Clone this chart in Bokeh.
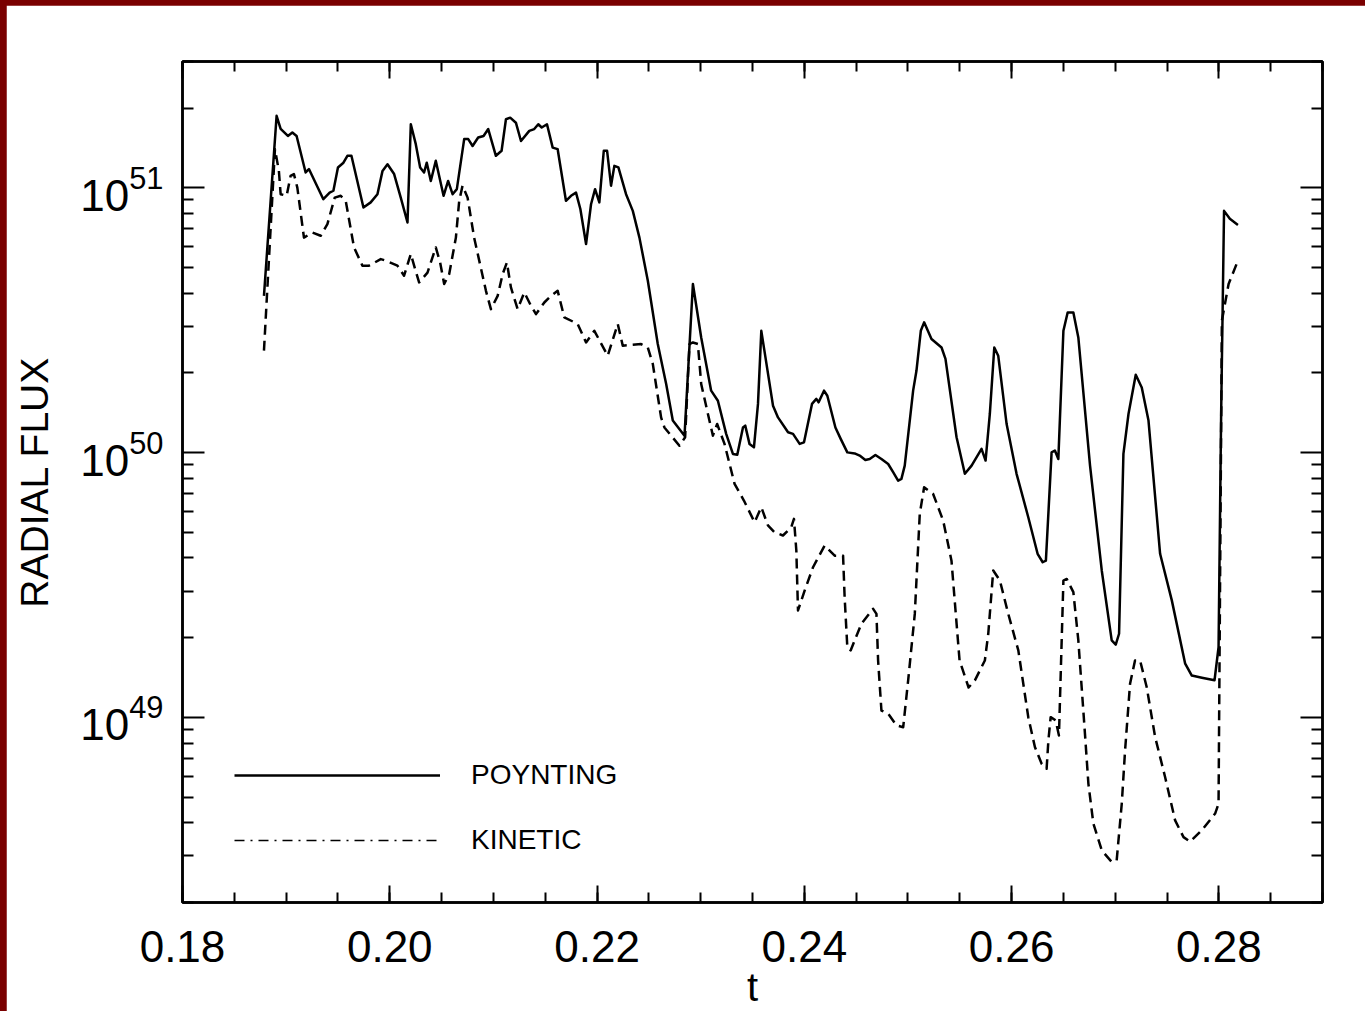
import numpy as np
from bokeh.plotting import figure
from bokeh.models import (LinearAxis, LogAxis, FixedTicker, PrintfTickFormatter,
                          Legend, LegendItem)
from bokeh.embed import file_html
from bokeh.resources import INLINE

# ---- data: time t and log10 of the radial flux (erg/s) ----
t_poynting = [
    0.18786, 0.18908, 0.18947, 0.19017, 0.19060, 0.19101, 0.19188, 0.19220, 0.19359, 0.19420,
    0.19456, 0.19500, 0.19553, 0.19591, 0.19630, 0.19746, 0.19816, 0.19881, 0.19930, 0.19978,
    0.20042, 0.20106, 0.20171, 0.20203, 0.20251, 0.20293, 0.20331, 0.20357, 0.20396, 0.20444,
    0.20519, 0.20563, 0.20606, 0.20647, 0.20718, 0.20757, 0.20799, 0.20853, 0.20905, 0.20950,
    0.21024, 0.21079, 0.21121, 0.21162, 0.21217, 0.21266, 0.21346, 0.21394, 0.21433, 0.21466,
    0.21517, 0.21572, 0.21620, 0.21700, 0.21749, 0.21797, 0.21839, 0.21894, 0.21942, 0.21981,
    0.22022, 0.22065, 0.22097, 0.22135, 0.22167, 0.22206, 0.22280, 0.22345, 0.22409, 0.22490,
    0.22586, 0.22667, 0.22731, 0.22844, 0.22925, 0.23005, 0.23101, 0.23166, 0.23246, 0.23311,
    0.23353, 0.23408, 0.23430, 0.23471, 0.23514, 0.23553, 0.23585, 0.23698, 0.23746, 0.23843,
    0.23891, 0.23955, 0.23997, 0.24074, 0.24116, 0.24138, 0.24190, 0.24222, 0.24300, 0.24351,
    0.24415, 0.24486, 0.24534, 0.24589, 0.24631, 0.24686, 0.24744, 0.24809, 0.24857, 0.24905,
    0.24937, 0.24969, 0.25050, 0.25082, 0.25124, 0.25156, 0.25227, 0.25324, 0.25362, 0.25469,
    0.25549, 0.25614, 0.25710, 0.25749, 0.25790, 0.25833, 0.25871, 0.25952, 0.26048, 0.26161,
    0.26251, 0.26300, 0.26331, 0.26386, 0.26418, 0.26451, 0.26500, 0.26541, 0.26596, 0.26644,
    0.26757, 0.26870, 0.26966, 0.27005, 0.27037, 0.27079, 0.27128, 0.27198, 0.27256, 0.27321,
    0.27433, 0.27546, 0.27675, 0.27739, 0.27836, 0.27958, 0.27997, 0.28022, 0.28050, 0.28106,
    0.28184,
]
log_poynting = [
    50.592, 51.272, 51.223, 51.196, 51.209, 51.196, 51.058, 51.071, 50.957, 50.982,
    50.989, 51.077, 51.095, 51.121, 51.121, 50.926, 50.945, 50.976, 51.064, 51.089,
    51.052, 50.963, 50.869, 51.240, 51.165, 51.077, 51.058, 51.095, 51.026, 51.102,
    50.970, 51.026, 50.976, 50.995, 51.184, 51.184, 51.158, 51.190, 51.196, 51.222,
    51.121, 51.140, 51.259, 51.265, 51.246, 51.177, 51.215, 51.222, 51.240, 51.228,
    51.240, 51.152, 51.146, 50.951, 50.970, 50.982, 50.920, 50.788, 50.938, 50.995,
    50.945, 51.140, 51.140, 51.008, 51.083, 51.077, 50.976, 50.913, 50.812, 50.649,
    50.410, 50.259, 50.121, 50.064, 50.637, 50.435, 50.234, 50.196, 50.071, 49.995,
    49.992, 50.095, 50.102, 50.033, 50.020, 50.184, 50.460, 50.177, 50.133, 50.077,
    50.071, 50.033, 50.039, 50.184, 50.203, 50.190, 50.234, 50.215, 50.095, 50.052,
    50.001, 49.997, 49.989, 49.972, 49.976, 49.991, 49.976, 49.957, 49.926, 49.894,
    49.901, 49.951, 50.234, 50.309, 50.460, 50.492, 50.429, 50.397, 50.354, 50.058,
    49.920, 49.951, 50.014, 49.970, 50.146, 50.397, 50.366, 50.108, 49.920, 49.756,
    49.618, 49.586, 49.592, 50.001, 50.008, 49.976, 50.460, 50.529, 50.529, 50.435,
    49.951, 49.555, 49.291, 49.275, 49.316, 49.995, 50.146, 50.294, 50.246, 50.121,
    49.618, 49.442, 49.203, 49.158, 49.150, 49.140, 49.265, 50.146, 50.913, 50.883,
    50.860,
]

t_kinetic = [
    0.18786, 0.18892, 0.18930, 0.18947, 0.19005, 0.19043, 0.19075, 0.19108, 0.19172, 0.19253,
    0.19333, 0.19398, 0.19469, 0.19527, 0.19575, 0.19655, 0.19736, 0.19800, 0.19913, 0.19961,
    0.20074, 0.20138, 0.20203, 0.20235, 0.20283, 0.20364, 0.20444, 0.20486, 0.20525, 0.20573,
    0.20638, 0.20670, 0.20702, 0.20751, 0.20814, 0.20928, 0.20976, 0.21041, 0.21089, 0.21130,
    0.21169, 0.21234, 0.21298, 0.21362, 0.21411, 0.21491, 0.21556, 0.21620, 0.21684, 0.21813,
    0.21894, 0.21974, 0.22103, 0.22200, 0.22248, 0.22425, 0.22490, 0.22538, 0.22618, 0.22650,
    0.22795, 0.22850, 0.22892, 0.22925, 0.22973, 0.23005, 0.23070, 0.23118, 0.23159, 0.23230,
    0.23327, 0.23417, 0.23520, 0.23585, 0.23649, 0.23713, 0.23794, 0.23874, 0.23900, 0.23923,
    0.23939, 0.24003, 0.24084, 0.24196, 0.24293, 0.24374, 0.24389, 0.24415, 0.24447, 0.24551,
    0.24664, 0.24696, 0.24712, 0.24744, 0.24809, 0.24889, 0.24954, 0.25002, 0.25066, 0.25114,
    0.25156, 0.25243, 0.25340, 0.25420, 0.25498, 0.25585, 0.25646, 0.25742, 0.25775, 0.25823,
    0.25887, 0.25968, 0.26065, 0.26161, 0.26225, 0.26290, 0.26338, 0.26355, 0.26377, 0.26425,
    0.26457, 0.26500, 0.26532, 0.26596, 0.26644, 0.26708, 0.26741, 0.26789, 0.26870, 0.26966,
    0.27014, 0.27063, 0.27095, 0.27143, 0.27191, 0.27240, 0.27304, 0.27385, 0.27481, 0.27578,
    0.27659, 0.27723, 0.27836, 0.27964, 0.27997, 0.28029, 0.28094, 0.28184,
]
log_kinetic = [
    50.385, 51.146, 51.064, 50.976, 50.970, 51.045, 51.052, 51.001, 50.812, 50.831,
    50.819, 50.863, 50.963, 50.970, 50.951, 50.775, 50.706, 50.706, 50.731, 50.725,
    50.706, 50.668, 50.750, 50.706, 50.643, 50.680, 50.775, 50.718, 50.637, 50.674,
    50.812, 50.951, 51.008, 50.963, 50.812, 50.611, 50.542, 50.592, 50.674, 50.718,
    50.624, 50.542, 50.605, 50.555, 50.523, 50.567, 50.592, 50.611, 50.511, 50.486,
    50.416, 50.460, 50.366, 50.486, 50.404, 50.410, 50.397, 50.335, 50.133, 50.095,
    50.026, 50.058, 50.410, 50.416, 50.410, 50.259, 50.146, 50.064, 50.108, 50.033,
    49.882, 49.819, 49.737, 49.794, 49.725, 49.699, 49.687, 49.718, 49.750, 49.630,
    49.404, 49.479, 49.567, 49.649, 49.611, 49.611, 49.454, 49.265, 49.253, 49.354,
    49.410, 49.391, 49.215, 49.026, 49.014, 48.970, 48.963, 49.140, 49.391, 49.769,
    49.869, 49.844, 49.743, 49.592, 49.215, 49.113, 49.140, 49.215, 49.316, 49.555,
    49.517, 49.391, 49.253, 49.001, 48.888, 48.825, 48.806, 48.913, 49.001, 48.989,
    48.932, 49.517, 49.523, 49.473, 49.291, 48.938, 48.750, 48.599, 48.498, 48.454,
    48.460, 48.674, 48.875, 49.127, 49.215, 49.215, 49.114, 48.926, 48.775, 48.611,
    48.548, 48.531, 48.574, 48.637, 48.674, 50.498, 50.637, 50.725,
]

t_ticks = [0.18, 0.20, 0.22, 0.24, 0.26, 0.28]
decades = [49, 50, 51]

poynting = 10.0 ** np.array(log_poynting)
kinetic = 10.0 ** np.array(log_kinetic)

FONT = "Liberation Sans"

p = figure(
    width=1359, height=1006, margin=(5, 0, 0, 6),
    x_range=(0.18, 0.29), y_range=(2e48, 3e51), y_axis_type="log",
    output_backend="svg", toolbar_location=None,
    min_border_left=176, min_border_right=43, min_border_top=56, min_border_bottom=109,
    background_fill_color="white", border_fill_color="white",
)
p.xgrid.grid_line_color = None
p.ygrid.grid_line_color = None
p.outline_line_color = "black"
p.outline_line_width = 2.5

x_minor = [round(0.18 + 0.005 * k, 3) for k in range(23)]
y_minor = [m * 10.0 ** e for e in (48, 49, 50, 51) for m in range(2, 10)]


def x_ticker():
    return FixedTicker(ticks=t_ticks, minor_ticks=x_minor)


def y_ticker():
    return FixedTicker(ticks=[10.0 ** e for e in decades], minor_ticks=y_minor)


def style_axis(ax, major_in, minor_in):
    ax.axis_line_color = "black"
    ax.axis_line_width = 2.5
    ax.major_tick_in = major_in
    ax.major_tick_out = 0
    ax.minor_tick_in = minor_in
    ax.minor_tick_out = 0
    ax.major_tick_line_color = "black"
    ax.minor_tick_line_color = "black"
    ax.major_tick_line_width = 2
    ax.minor_tick_line_width = 2


# bottom axis: tick labels and the t label
xb = p.xaxis[0]
xb.ticker = x_ticker()
xb.formatter = PrintfTickFormatter(format="%.2f")
style_axis(xb, 17, 10)
xb.major_label_text_font = FONT
xb.major_label_text_font_size = "44px"
xb.major_label_text_color = "black"
xb.major_label_standoff = 28
xb.axis_label = "t"
xb.axis_label_text_font = FONT
xb.axis_label_text_font_size = "40px"
xb.axis_label_text_font_style = "normal"
xb.axis_label_text_color = "black"
xb.axis_label_standoff = 0

# top axis, ticks only
xt = LinearAxis(ticker=x_ticker(), major_label_text_color=None,
                major_label_text_font_size="1px")
style_axis(xt, 17, 10)
p.add_layout(xt, "above")

# left axis: decade labels as 10 with exponent, plus the flux label
yl = p.yaxis[0]
yl.ticker = y_ticker()
style_axis(yl, 22, 11)
yl.major_label_text_font = FONT
yl.major_label_text_font_size = "44px"
yl.major_label_text_color = "black"
yl.major_label_standoff = 19
yl.axis_label = "RADIAL FLUX"
yl.axis_label_text_font = FONT
yl.axis_label_text_font_size = "39px"
yl.axis_label_text_font_style = "normal"
yl.axis_label_text_color = "black"
yl.axis_label_standoff = 21

yr = LogAxis(ticker=y_ticker(), major_label_text_color=None,
             major_label_text_font_size="1px")
style_axis(yr, 22, 11)
p.add_layout(yr, "right")

# curves
r_p = p.line(t_poynting, poynting, line_color="black", line_width=2.5, line_join="round")
p.line(t_kinetic, kinetic, line_color="black", line_width=2.5, line_dash="10 6", line_join="round")
key_k = p.line([np.nan], [np.nan], line_color="black", line_width=1.4, line_dash="10 6 2 6")

legend = Legend(
    items=[LegendItem(label="POYNTING", renderers=[r_p]),
           LegendItem(label="KINETIC", renderers=[key_k])],
    location=(52, 42), orientation="vertical",
    glyph_width=206, glyph_height=40, label_height=40, label_standoff=31,
    spacing=25, padding=0, margin=0,
    border_line_color=None, background_fill_alpha=0,
    label_text_font=FONT, label_text_font_size="28px",
    label_text_color="black",
)
p.add_layout(legend)

html = file_html(p, INLINE, title="Radial flux")
html = html.replace("</head>", "<style>html, body { background: #7a0000; }</style>\n</head>", 1)
open("out.html", "w").write(html)
